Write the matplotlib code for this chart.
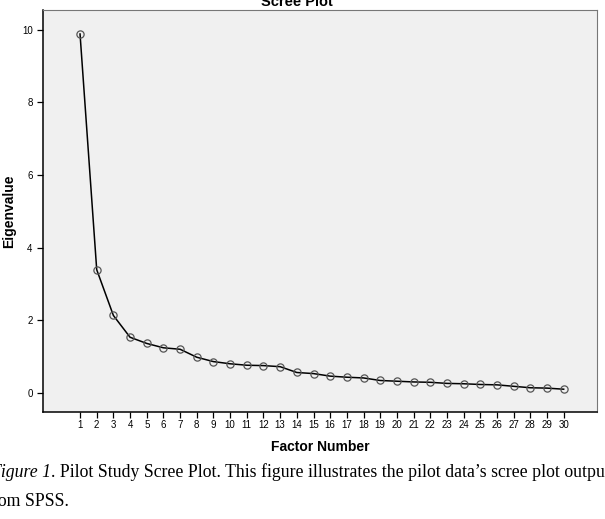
import matplotlib
matplotlib.use('Agg')
import matplotlib.pyplot as plt

factors = list(range(1, 31))
eigenvalues = [9.88, 3.39, 2.13, 1.53, 1.36, 1.24, 1.20, 0.98, 0.86, 0.80,
               0.76, 0.75, 0.72, 0.56, 0.53, 0.46, 0.43, 0.41, 0.34, 0.32,
               0.30, 0.29, 0.26, 0.25, 0.23, 0.22, 0.18, 0.14, 0.13, 0.10]
y_ticks = [0, 2, 4, 6, 8, 10]

plt.rcParams['font.family'] = ['Liberation Sans', 'DejaVu Sans']

fig = plt.figure(figsize=(6.05, 5.19), dpi=100)
ax = fig.add_axes([0.0711, 0.2067, 0.9157, 0.774])
ax.set_facecolor('#f0f0f0')

ax.plot(factors, eigenvalues, color='black', linewidth=1.1,
        marker='o', markersize=5.2, markerfacecolor='none',
        markeredgecolor='#555555', markeredgewidth=0.9)

ax.set_xlim(-1.22, 32.0)
ax.set_ylim(-0.52, 10.54)
ax.set_xticks(factors)
ax.set_yticks(y_ticks)
ax.tick_params(axis='both', labelsize=7, length=4, width=0.9, direction='out')
ax.tick_params(axis='x', pad=2)

for side in ['top', 'right']:
    ax.spines[side].set_color('#777777')
ax.spines['left'].set_color('black')
ax.spines['bottom'].set_color('black')
ax.spines['left'].set_linewidth(1.1)
ax.spines['bottom'].set_linewidth(1.1)

ax.set_xlabel('Factor Number', fontsize=10, fontweight='bold', labelpad=7)
ax.set_ylabel('Eigenvalue', fontsize=10, fontweight='bold', labelpad=4)
fig.text(0.49, 0.997, 'Scree Plot', ha='center', va='center',
         fontsize=10.5, fontweight='bold')

# caption below the chart (cropped at the edges like the source)
cap_font = ['Liberation Serif']
t1 = fig.text(-0.017, 0.09, 'Figure 1', fontsize=12.8, family=cap_font,
              style='italic', ha='left', va='center')
fig.canvas.draw()
bb = t1.get_window_extent()
x_next = bb.x1 / fig.bbox.width
fig.text(x_next, 0.09, ". Pilot Study Scree Plot. This figure illustrates the pilot data\u2019s scree plot output",
         fontsize=12.8, family=cap_font, ha='left', va='center')
fig.text(-0.023, 0.033, 'from SPSS.', fontsize=12.8, family=cap_font,
         ha='left', va='center')

fig.savefig('out.png', dpi=100)
